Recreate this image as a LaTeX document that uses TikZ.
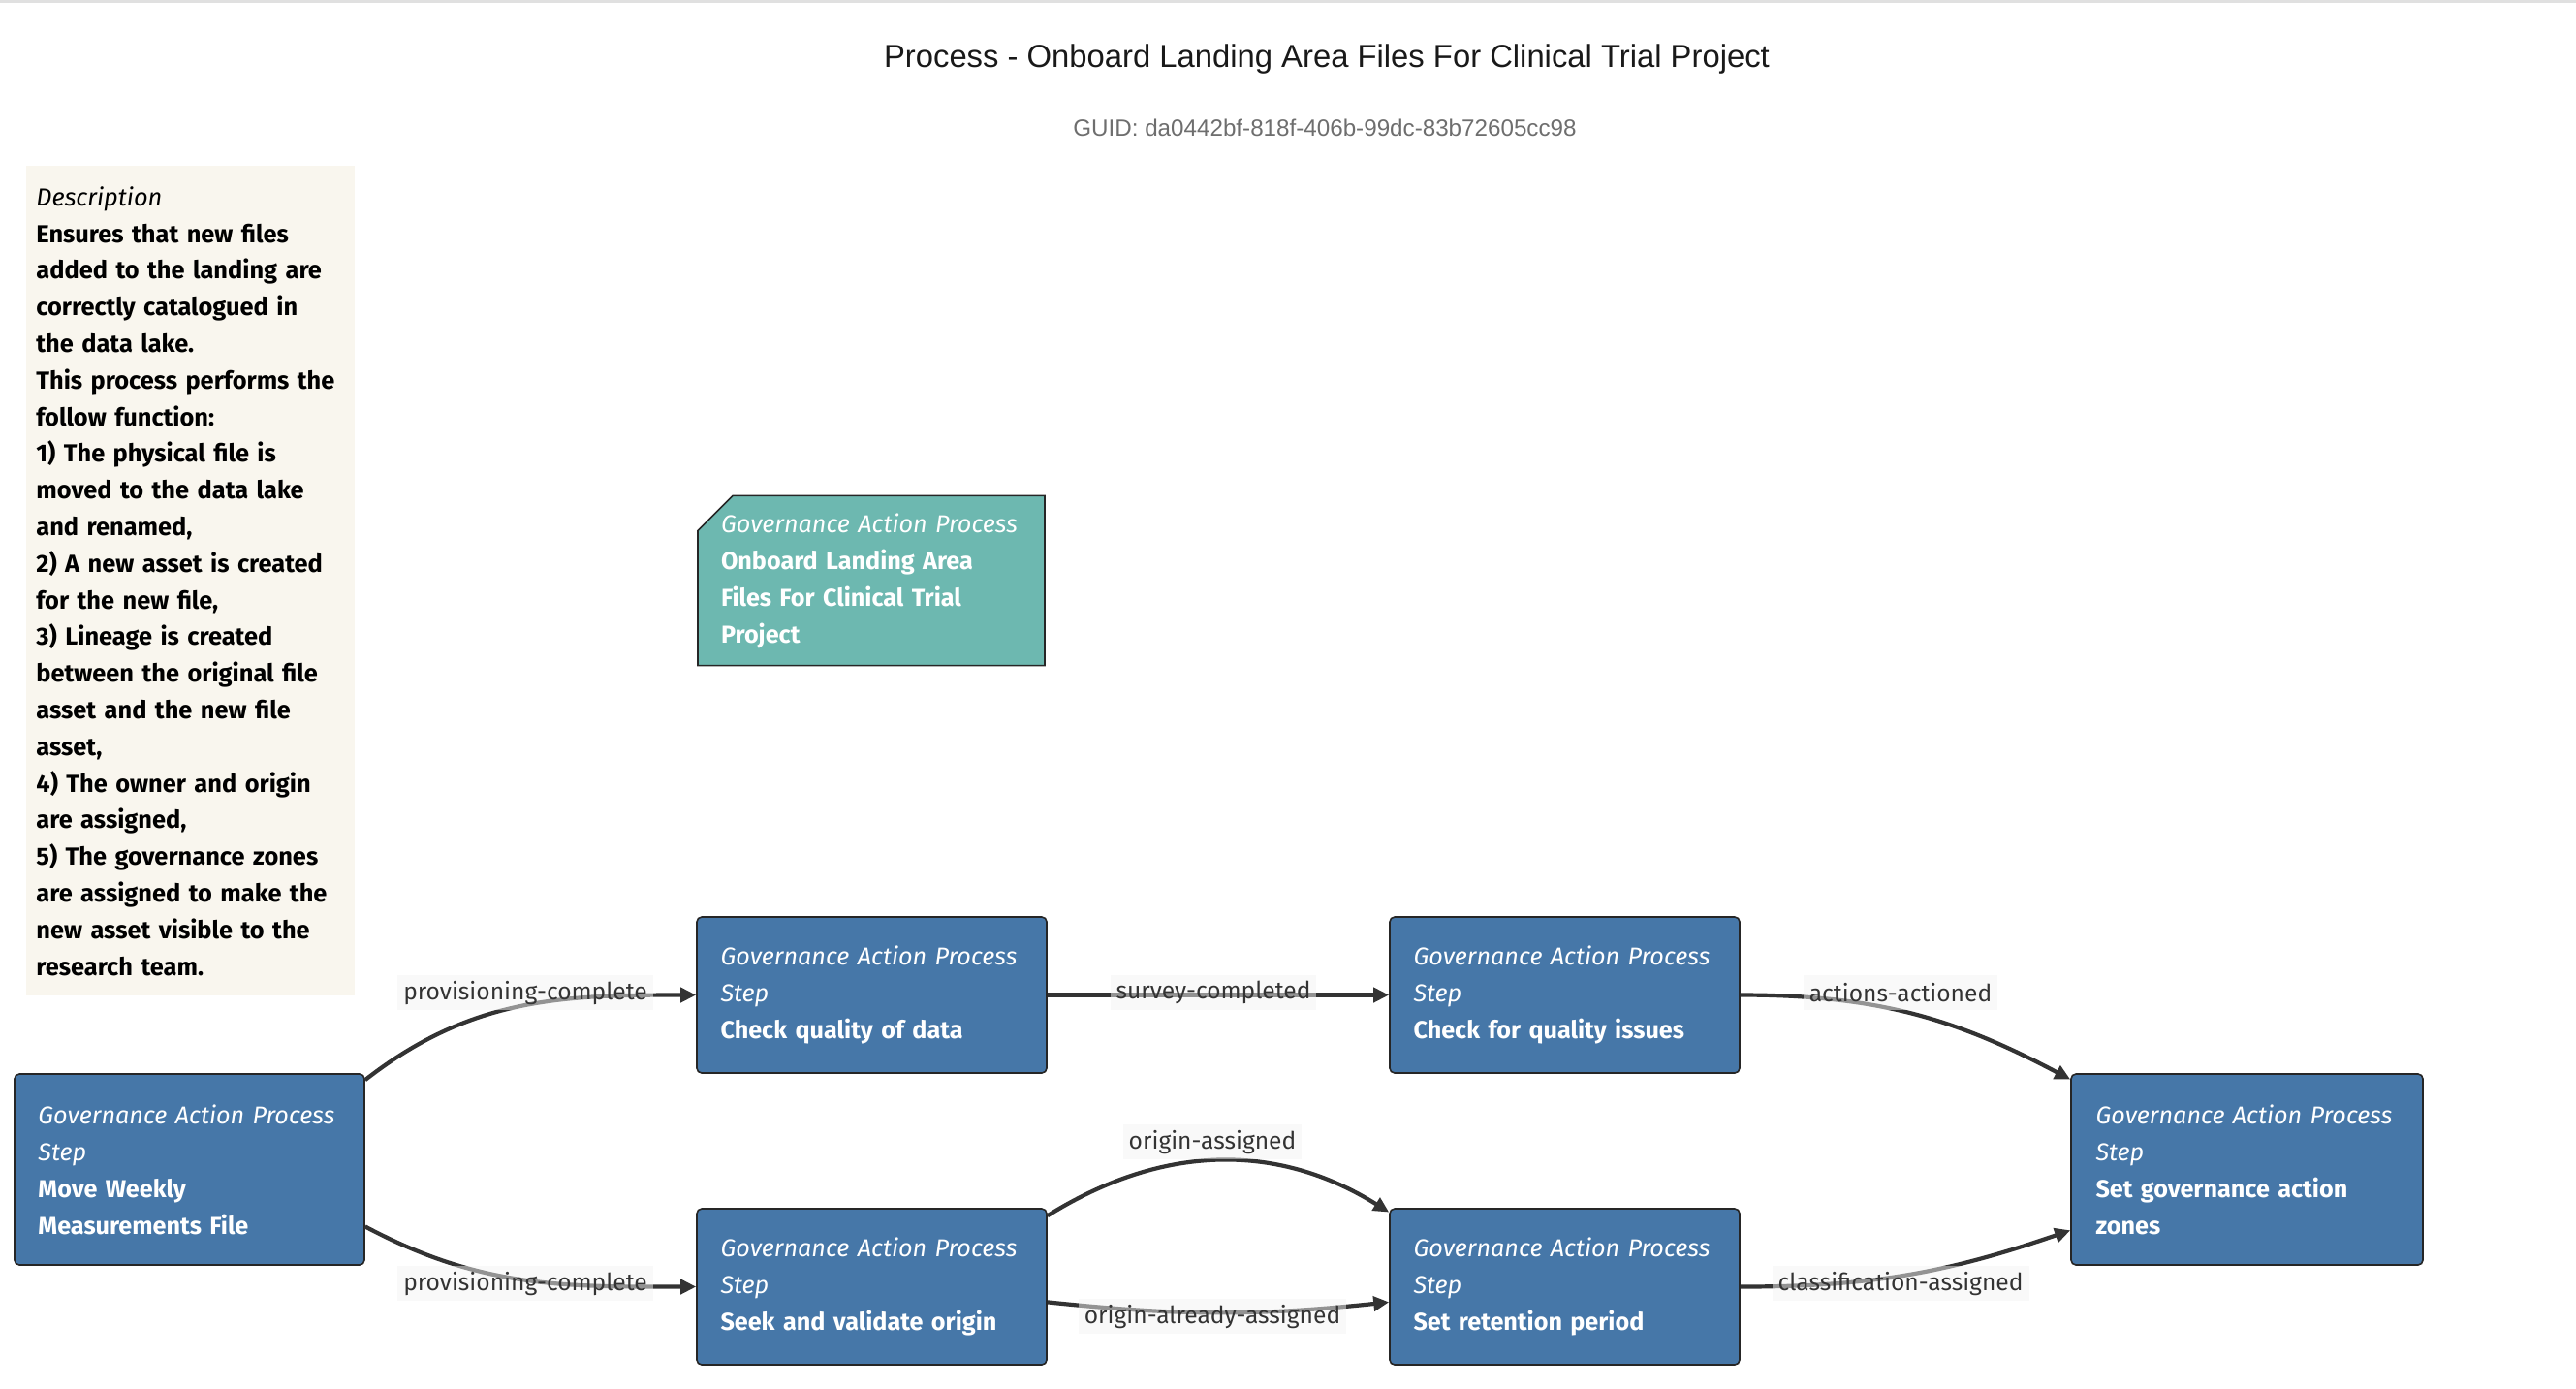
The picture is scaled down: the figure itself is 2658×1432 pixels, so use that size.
\documentclass[tikz,border=0pt]{standalone}
\usepackage{fontspec}
\setmainfont{Fira Sans}
\newfontfamily\titlefont{Liberation Sans}
\usetikzlibrary{arrows.meta,shapes.misc}

\definecolor{stepblue}{HTML}{4677A8}
\definecolor{procteal}{HTML}{6DB8B0}
\definecolor{desccream}{HTML}{F9F6EE}
\definecolor{labelgray}{HTML}{F4F4F4}
\definecolor{linegray}{HTML}{333333}
\definecolor{guidgray}{HTML}{6E6E6E}

\tikzset{
  stepnode/.style={rectangle,rounded corners=2.5pt,draw=black!85,line width=0.8pt,
    fill=stepblue,text=white,minimum width=180.5pt,minimum height=80.5pt,
    text width=156pt,align=left,inner sep=0pt,font=\fontsize{12.6}{19}\selectfont},
  procnode/.style={chamfered rectangle,chamfered rectangle corners=north west,
    chamfered rectangle xsep=9pt,chamfered rectangle ysep=9pt,draw=black!85,line width=0.8pt,
    fill=procteal,text=white,minimum width=179pt,minimum height=87pt,
    text width=155pt,align=left,inner sep=0pt,font=\fontsize{12.6}{19}\selectfont},
  flow/.style={->,>={Triangle[length=8pt,width=7.5pt]},draw=linegray,line width=2.1pt},
  flowlabel/.style={fill=labelgray,fill opacity=0.5,text opacity=1,text=linegray,
    inner xsep=3pt,inner ysep=0pt,minimum height=18pt,font=\fontsize{12.3}{14}\selectfont}
}

\begin{document}
\begin{tikzpicture}[x=0.5pt,y=-0.5pt]
  \useasboundingbox (0,0) rectangle (2658,1432);
  \fill[black!12] (0,0) rectangle (2658,3);

  \node[font=\titlefont\fontsize{16.4}{19}\selectfont,text=black!90] (title) at (1369,61)
    {Process - Onboard Landing Area Files For Clinical Trial Project};
  \node[font=\titlefont\fontsize{12.1}{14}\selectfont,text=guidgray] (guid) at (1367,132)
    {GUID: da0442bf-818f-406b-99dc-83b72605cc98};

  % description
  \node[anchor=north west,fill=desccream,minimum width=169.5pt,minimum height=428pt,
    text width=159.5pt,inner xsep=5pt,align=left,font=\fontsize{12.7}{18.9}\selectfont\bfseries]
    (desc) at (27,171)
    {\textit{\mdseries Description}\\
     Ensures that new files\\ added to the landing are\\ correctly catalogued in\\ the data lake.\\
     This process performs the\\ follow function:\\
     1) The physical file is\\ moved to the data lake\\ and renamed,\\
     2) A new asset is created\\ for the new file,\\
     3) Lineage is created\\ between the original file\\ asset and the new file\\ asset,\\
     4) The owner and origin\\ are assigned,\\
     5) The governance zones\\ are assigned to make the\\ new asset visible to the\\ research team.};

  \node[procnode] (proc) at (899,599)
    {\textit{Governance Action Process}\\ \textbf{Onboard Landing Area}\\
     \textbf{Files For Clinical Trial}\\ \textbf{Project}};

  \node[stepnode,minimum height=98.5pt] (move) at (195.5,1206.5)
    {\textit{Governance Action Process}\\ \textit{Step}\\ \textbf{Move Weekly}\\
     \textbf{Measurements File}};
  \node[stepnode] (chkdata) at (899.5,1026.5)
    {\textit{Governance Action Process}\\ \textit{Step}\\ \textbf{Check quality of data}};
  \node[stepnode] (chkissues) [right of=chkdata,node distance=357.5pt]
    {\textit{Governance Action Process}\\ \textit{Step}\\ \textbf{Check for quality issues}};
  \node[stepnode] (seek) at (899.5,1327.5)
    {\textit{Governance Action Process}\\ \textit{Step}\\ \textbf{Seek and validate origin}};
  \node[stepnode] (retention) [right of=seek,node distance=357.5pt]
    {\textit{Governance Action Process}\\ \textit{Step}\\ \textbf{Set retention period}};
  \node[stepnode,minimum height=98.5pt,minimum width=181.5pt] (zones) at (2318.5,1206.5)
    {\textit{Governance Action Process}\\ \textit{Step}\\ \textbf{Set governance action}\\
     \textbf{zones}};

  \draw[flow] (move.27) to[out=38,in=180] (chkdata.west);
  \draw[flow] (move.-18.5) to[out=-28,in=180] (seek.west);
  \draw[flow] (chkdata) -- (chkissues);
  \draw[flow] (chkissues.east) to[out=0,in=152] (zones.153);
  \draw[flow] (seek.22.4) to[out=32,in=148] (retention.157.6);
  \draw[flow] (seek.-5) to[out=-6,in=186] (retention.185);
  \draw[flow] (retention.east) to[out=0,in=199] (zones.199);

  \node[flowlabel] (lprovup) at (542,1024) {provisioning-complete};
  \node[flowlabel] (lprovdown) at (542,1324) {provisioning-complete};
  \node[flowlabel] (lsurvey) at (1252,1024) {survey-completed};
  \node[flowlabel] (lactions) at (1961,1024) {actions-actioned};
  \node[flowlabel] (lorigin) at (1251,1178) {origin-assigned};
  \node[flowlabel] (lalready) at (1251,1358) {origin-already-assigned};
  \node[flowlabel] (lclass) at (1961,1324) {classification-assigned};
\end{tikzpicture}
\end{document}
